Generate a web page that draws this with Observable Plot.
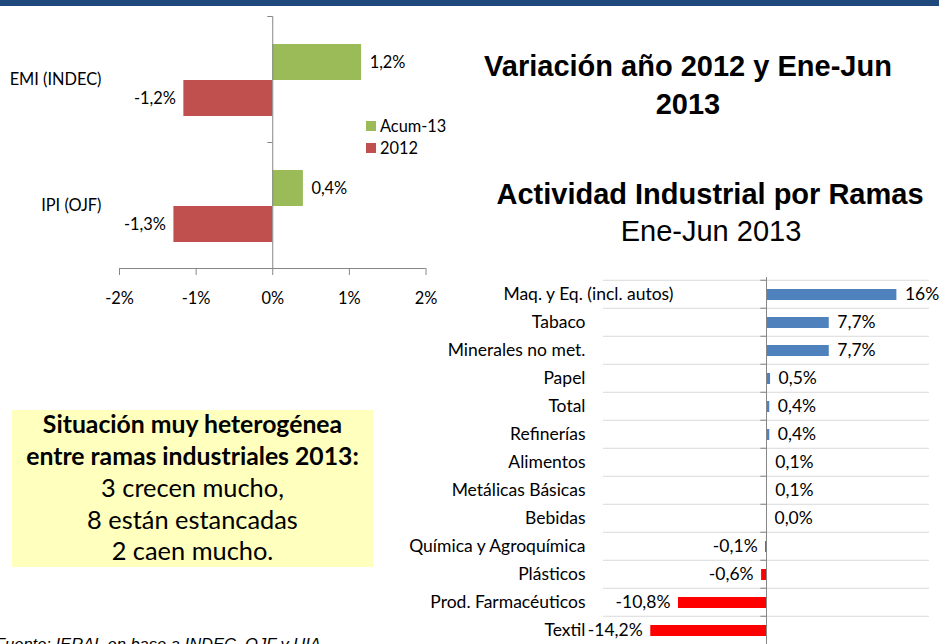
<!DOCTYPE html>
<html><head><meta charset="utf-8">
<script src="https://cdn.jsdelivr.net/npm/d3@7"></script>
<script src="https://cdn.jsdelivr.net/npm/@observablehq/plot@0.6"></script>
<style>
html,body{margin:0;padding:0;width:939px;height:644px;overflow:hidden;background:#fff;}
#page{position:relative;width:939px;height:644px;overflow:hidden;}
.abs{position:absolute;}
</style></head>
<body><div id="page"></div>
<script>
// ---------- DATA ----------
const leftCategories = ["EMI (INDEC)", "IPI (OJF)"];
const leftSeries = ["Acum-13", "2012"];
const acum13Values = [1.16, 0.40];
const y2012Values = [-1.16, -1.29];
const leftTicks = [-2, -1, 0, 1, 2];

const ramas = ["Maq. y Eq. (incl. autos)", "Tabaco", "Minerales no met.", "Papel", "Total",
  "Refinerías", "Alimentos", "Metálicas Básicas", "Bebidas", "Química y Agroquímica",
  "Plásticos", "Prod. Farmacéuticos", "Textil"];
const ramasValues = [16.0, 7.7, 7.7, 0.5, 0.4, 0.4, 0.1, 0.1, 0.0, -0.1, -0.6, -10.8, -14.2];
const ramasLabels = ["16%", "7,7%", "7,7%", "0,5%", "0,4%", "0,4%", "0,1%", "0,1%", "0,0%",
  "-0,1%", "-0,6%", "-10,8%", "-14,2%"];

const titleLines = ["Variación año 2012 y Ene-Jun", "2013"];
const subtitleBold = "Actividad Industrial por Ramas";
const subtitleRegular = "Ene-Jun 2013";
const boxBoldLines = ["Situación muy heterogénea", "entre ramas industriales 2013:"];
const boxLines = ["3 crecen mucho,", "8 están estancadas", "2 caen mucho."];
const sourceText = "Fuente: IERAL en base a INDEC, OJF y UIA";

// ---------- STYLE ----------
const GREEN = "#9BBB59", RED12 = "#C0504D", BLUE = "#4F81BD", NEG = "#FF0000";
const AXIS = "#868686", GRID = "#D9D9D9", NAVY = "#1F497D", BOX = "#FFFFBE";
const CAL = "Lato, 'Open Sans', sans-serif";
const ARIAL = "'Liberation Sans', Arial, sans-serif";

const ctx = document.createElement("canvas").getContext("2d");
function fit(text, weight, family, target, style = "normal") {
  ctx.font = `${style} ${weight} 100px ${family}`;
  const w = ctx.measureText(text).width;
  return w > 0 ? 100 * target / w : 16;
}
const chartFS = fit("Maq. y Eq. (incl. autos)", 400, CAL, 171);
const leftFS = fit("EMI (INDEC)", 400, CAL, 92);
const boxBoldFS = fit("Situación muy heterogénea", 700, CAL, 300);
const boxFS = fit("3 crecen mucho,", 400, CAL, 183);

const page = document.getElementById("page");
function place(node, left, top) {
  const d = document.createElement("div");
  d.className = "abs"; d.style.left = left + "px"; d.style.top = top + "px";
  d.appendChild(node); page.appendChild(d);
}
const fmt1 = v => v.toFixed(1).replace(".", ",") + "%";

// ---------- LEFT CHART ----------
const leftRows = leftCategories.map((c, i) => ({cat: c, acum: acum13Values[i], y12: y2012Values[i]}));
const LW = 450, LH = 320, LMT = 16, LMB = 52;
const lBand = (LH - LMT - LMB) / leftCategories.length;
const left = Plot.plot({
  width: LW, height: LH,
  marginLeft: 119, marginRight: 24.5, marginTop: LMT, marginBottom: LMB,
  style: {fontFamily: CAL, fontSize: leftFS + "px", color: "#000", background: "transparent", overflow: "visible"},
  x: {domain: [-2, 2], axis: null},
  y: {domain: leftCategories, padding: 0, axis: null},
  marks: [
    Plot.barX(leftRows, {x: "acum", y: "cat", fill: GREEN, insetTop: 28, insetBottom: 62}),
    Plot.barX(leftRows, {x: "y12", y: "cat", fill: RED12, insetTop: 64, insetBottom: 26}),
    Plot.ruleX([0], {stroke: AXIS}),
    Plot.ruleY(leftCategories, {y: d => d, x1: -0.065, x2: 0, dy: -lBand / 2, stroke: AXIS}),
    Plot.ruleY(leftCategories.slice(-1), {y: d => d, x1: -0.065, x2: 0, dy: lBand / 2, stroke: AXIS}),
    Plot.ruleY(leftCategories.slice(-1), {y: d => d, x1: -2, x2: 2, dy: lBand / 2, stroke: AXIS}),
    Plot.axisX({ticks: leftTicks, tickFormat: d => d + "%", tickSize: 7, tickPadding: 17, stroke: AXIS, fill: "#000", label: null}),
    Plot.axisY({tickSize: 0, tickPadding: 18, fill: "#000", label: null}),
    Plot.text(leftRows, {x: "acum", y: "cat", text: d => fmt1(d.acum), dy: -17, dx: 8, textAnchor: "start", fill: "#000"}),
    Plot.text(leftRows, {x: "y12", y: "cat", text: d => fmt1(d.y12), dy: 19, dx: -8, textAnchor: "end", fill: "#000"})
  ]
});
place(left, 0, 0);

// ---------- RIGHT CHART ----------
const rRows = ramas.map((r, i) => ({name: r, v: ramasValues[i], label: ramasLabels[i]}));
const RW = 489, RH = 386, RMT = 12, RMB = 3.5;
const rBand = (RH - RMT - RMB) / ramas.length;
const right = Plot.plot({
  width: RW, height: RH,
  marginLeft: 153, marginRight: 10, marginTop: RMT, marginBottom: RMB,
  style: {fontFamily: CAL, fontSize: chartFS + "px", color: "#000", background: "transparent", overflow: "visible"},
  x: {domain: [-20, 20], axis: null},
  y: {domain: ramas, padding: 0, axis: null},
  marks: [
    Plot.ruleY(ramas, {y: d => d, x1: -20, x2: 20, dy: -rBand / 2, stroke: GRID}),
    Plot.ruleY(ramas.slice(-1), {y: d => d, x1: -20, x2: 20, dy: rBand / 2, stroke: GRID}),
    Plot.barX(rRows, {filter: d => d.v >= 0, x: "v", y: "name", fill: BLUE, insetTop: 9, insetBottom: 8}),
    Plot.barX(rRows, {filter: d => d.v < 0, x: "v", y: "name", fill: NEG, insetTop: 9, insetBottom: 8}),
    Plot.ruleX([0], {stroke: AXIS}),
    Plot.ruleY(ramas, {y: d => d, x1: -0.7, x2: 0, dy: -rBand / 2, stroke: AXIS}),
    Plot.axisY(ramas.slice(1), {tickSize: 0, tickPadding: 18, fill: "#000", label: null}),
    // first category label sits further right, inside the plot area (as in the original)
    Plot.text(ramas.slice(0, 1), {y: d => d, text: d => d, frameAnchor: "left", dx: 70, textAnchor: "end", fill: "#000"}),
    Plot.text(rRows, {filter: d => d.v >= 0, x: "v", y: "name", text: "label", dx: 8, textAnchor: "start", fill: "#000"}),
    Plot.text(rRows, {filter: d => d.v < 0, x: "v", y: "name", text: "label", dx: -8, textAnchor: "end", fill: "#000"})
  ]
});
place(right, 450, 265);

// ---------- ANNOTATIONS ----------
const svg = d3.create("svg").attr("width", 939).attr("height", 644)
  .style("position", "absolute").style("left", "0px").style("top", "0px").style("overflow", "hidden");
svg.append("rect").attr("x", 0).attr("y", 0).attr("width", 939).attr("height", 6).attr("fill", NAVY);

// legend
leftSeries.forEach((s, i) => {
  const cy = 126 + i * 22;
  svg.append("rect").attr("x", 366).attr("y", cy - 5).attr("width", 10).attr("height", 10).attr("fill", i === 0 ? GREEN : RED12);
  svg.append("text").attr("x", 380).attr("y", cy).attr("dy", "0.35em")
    .attr("font-family", CAL).attr("font-size", leftFS).attr("fill", "#000").text(s);
});

// titles
titleLines.forEach((t, i) => {
  svg.append("text").attr("x", 688).attr("y", 76 + i * 38).attr("text-anchor", "middle")
    .attr("font-family", ARIAL).attr("font-weight", "bold").attr("font-size", 29).attr("fill", "#000").text(t);
});
svg.append("text").attr("x", 710).attr("y", 204).attr("text-anchor", "middle")
  .attr("font-family", ARIAL).attr("font-weight", "bold").attr("font-size", 29).attr("fill", "#000").text(subtitleBold);
svg.append("text").attr("x", 711).attr("y", 241).attr("text-anchor", "middle")
  .attr("font-family", ARIAL).attr("font-size", 29).attr("fill", "#000").text(subtitleRegular);

// box
svg.append("rect").attr("x", 12).attr("y", 410).attr("width", 361).attr("height", 157).attr("fill", BOX);
boxBoldLines.forEach((t, i) => {
  svg.append("text").attr("x", 192.5).attr("y", 433 + i * 32).attr("text-anchor", "middle")
    .attr("font-family", CAL).attr("font-weight", "bold").attr("font-size", boxBoldFS).attr("fill", "#000").text(t);
});
boxLines.forEach((t, i) => {
  svg.append("text").attr("x", 192.5).attr("y", 497 + i * 31.5).attr("text-anchor", "middle")
    .attr("font-family", CAL).attr("font-size", boxFS).attr("fill", "#000").text(t);
});

// source
svg.append("text").attr("x", -5).attr("y", 650)
  .attr("font-family", ARIAL).attr("font-style", "italic").attr("font-size", 16.5).attr("fill", "#000").text(sourceText);

page.appendChild(svg.node());
</script>
</body></html>
